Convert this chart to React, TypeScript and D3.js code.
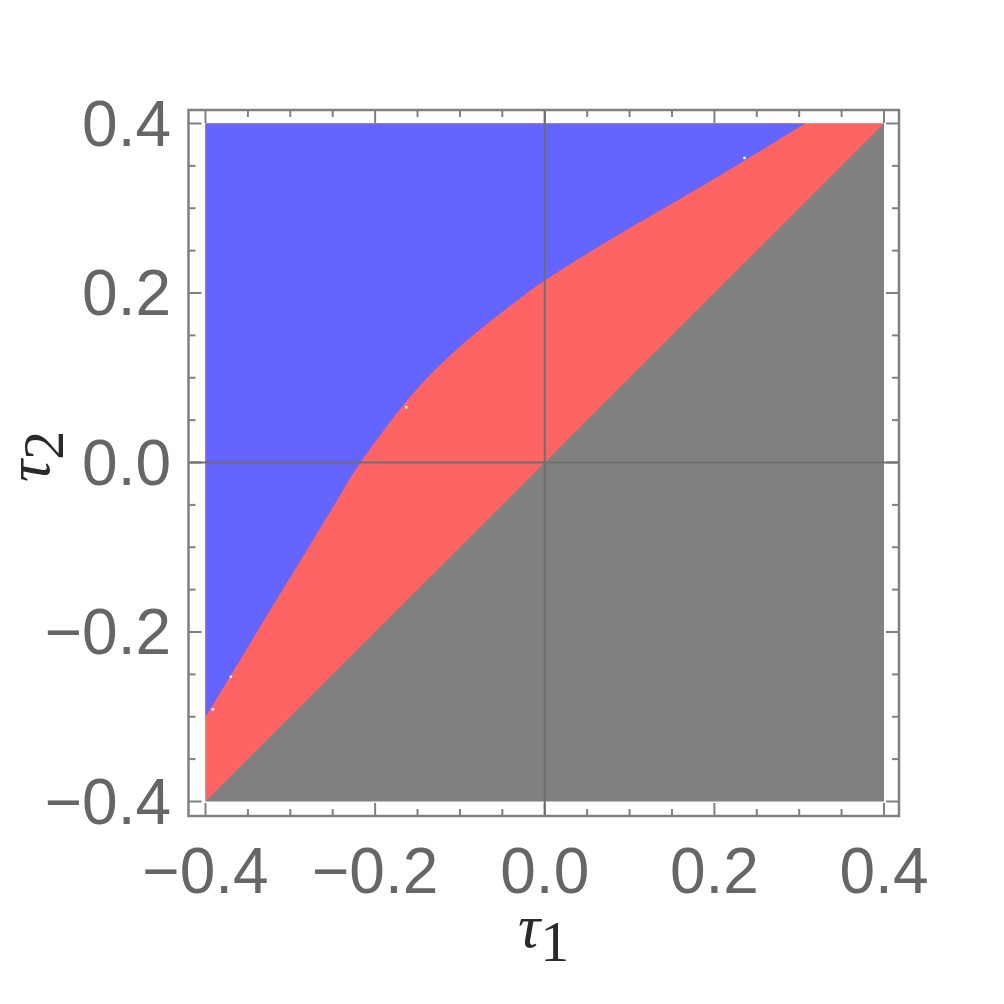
import React from "react";
import * as d3 from "d3";

// boundary between the blue and red regions
const boundaryTau1 = [-0.4, -0.359, -0.336, -0.312, -0.287, -0.259, -0.238, -0.218, -0.181, -0.149, -0.11, -0.063, -0.012, 0.0, 0.05, 0.116, 0.187, 0.234, 0.307];
const boundaryTau2 = [-0.3, -0.233, -0.194, -0.155, -0.114, -0.068, -0.033, 0.0, 0.05, 0.09, 0.129, 0.168, 0.207, 0.215, 0.247, 0.286, 0.327, 0.355, 0.4];

// lower edge of the red region is the diagonal tau2 = tau1
const diagonal = [-0.4, 0.4];

// little white specks left on the boundary
const speckTau1 = [-0.3915, -0.3703, -0.1636, 0.2353];
const speckTau2 = [-0.291, -0.2526, 0.0656, 0.3597];

const majorTicks = [-0.4, -0.2, 0.0, 0.2, 0.4];
const majorLabels = ["−0.4", "−0.2", "0.0", "0.2", "0.4"];
const minorTicks = [-0.35, -0.3, -0.25, -0.15, -0.1, -0.05, 0.05, 0.1, 0.15, 0.25, 0.3, 0.35];

const domain: [number, number] = [-0.4, 0.4];

const App = () => {
    const x = d3.scaleLinear().domain(domain).range([205.5, 884]);
    const y = d3.scaleLinear().domain(domain).range([801.5, 123.5]);

    const frameL = 188.5, frameR = 899, frameT = 110, frameB = 816;

    const boundary = boundaryTau1.map((t, i) => [t, boundaryTau2[i]] as [number, number]);

    // blue: from the top edge down to the boundary
    const blueArea = d3.area<[number, number]>()
        .x(d => x(d[0]))
        .y0(() => y(0.4))
        .y1(d => y(d[1]))
        .curve(d3.curveBasis);

    // red: from the top edge down to the diagonal
    const redArea = d3.area<number>()
        .x(d => x(d))
        .y0(() => y(0.4))
        .y1(d => y(d));

    const gridColor = "#808080";
    const textColor = "#666666";
    const labelFont = "'Liberation Sans', Arial, sans-serif";
    const titleFont = "'Liberation Serif', 'Times New Roman', serif";
    const fs = 64;

    const tickLines = (v: number, len: number, key: string) => (
        <g key={key}>
            <line x1={x(v)} x2={x(v)} y1={frameT} y2={frameT + len} />
            <line x1={x(v)} x2={x(v)} y1={frameB} y2={frameB - len} />
            <line y1={y(v)} y2={y(v)} x1={frameL} x2={frameL + len} />
            <line y1={y(v)} y2={y(v)} x1={frameR} x2={frameR - len} />
        </g>
    );

    return (
        <svg width={1004} height={1004} style={{ position: "absolute", left: 0, top: 0, background: "#fff" }}>
            {/* ticks */}
            <g stroke={gridColor} strokeWidth={2}>
                {minorTicks.map((v, i) => tickLines(v, 7, "m" + i))}
                {majorTicks.map((v, i) => tickLines(v, 13, "M" + i))}
            </g>

            {/* regions */}
            <rect x={x(-0.4)} y={y(0.4)} width={x(0.4) - x(-0.4)} height={y(-0.4) - y(0.4)} fill="#808080" />
            <path d={redArea(diagonal) || ""} fill="#FF6464" />
            <path d={blueArea(boundary) || ""} fill="#6464FF" />
            {speckTau1.map((t, i) => (
                <rect key={i} x={x(t) - 1} y={y(speckTau2[i]) - 1} width={2.5} height={2.5} fill="#ffffff" />
            ))}

            {/* axes through the origin */}
            <line x1={x(0)} x2={x(0)} y1={frameT} y2={frameB} stroke="#6e6e6e" strokeWidth={2} />
            <line y1={y(0)} y2={y(0)} x1={frameL} x2={frameR} stroke="#6e6e6e" strokeWidth={2} />

            {/* frame */}
            <rect x={frameL} y={frameT} width={frameR - frameL} height={frameB - frameT} fill="none" stroke={gridColor} strokeWidth={2.5} />

            {/* tick labels */}
            <g fill={textColor} fontFamily={labelFont} fontSize={fs}>
                {majorTicks.map((v, i) => (
                    <text key={"x" + i} x={x(v)} y={893} textAnchor="middle">{majorLabels[i]}</text>
                ))}
                {majorTicks.map((v, i) => (
                    <text key={"y" + i} x={171} y={y(v) + 22} textAnchor="end">{majorLabels[i]}</text>
                ))}
            </g>

            {/* axis titles */}
            <text x={518} y={947} fill="#2a2a2a" fontFamily={titleFont} fontSize={62}>
                <tspan fontStyle="italic">τ</tspan>
                <tspan dy={14} fontSize={58}>1</tspan>
            </text>
            <text transform="translate(49,482) rotate(-90)" fill="#2a2a2a" fontFamily={titleFont} fontSize={62}>
                <tspan fontStyle="italic">τ</tspan>
                <tspan dy={14} fontSize={58}>2</tspan>
            </text>
        </svg>
    );
};

export default App;
